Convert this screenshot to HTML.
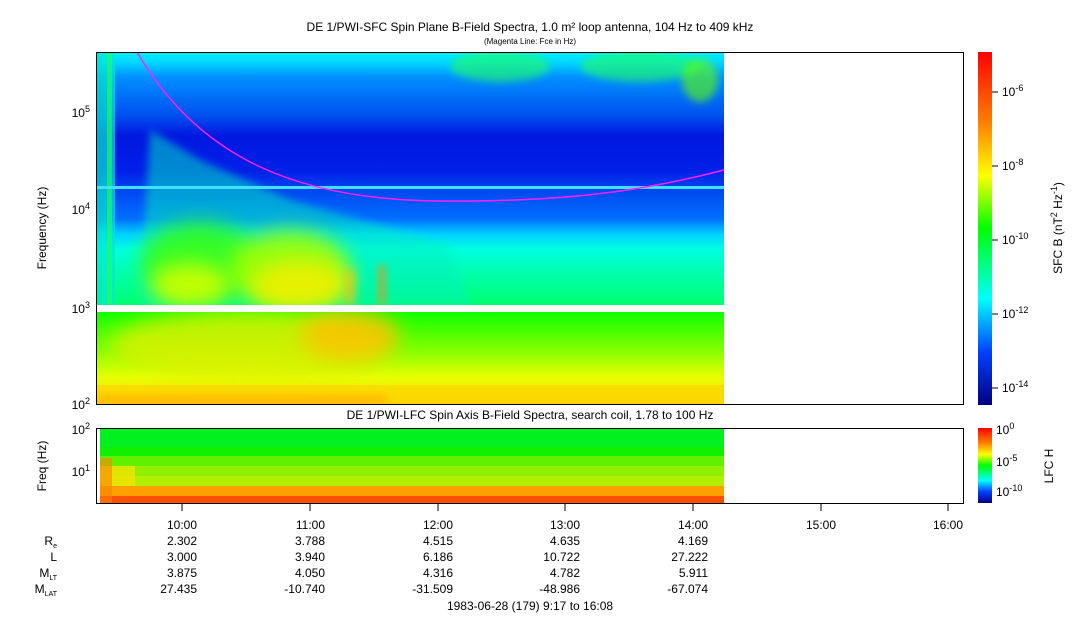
<!DOCTYPE html>
<html><head><meta charset="utf-8"><style>
body{margin:0;background:#fff;width:1083px;height:620px;overflow:hidden;font-family:"Liberation Sans",sans-serif}
svg text{font-family:"Liberation Sans",sans-serif;fill:#000}
</style></head><body>
<svg width="1083" height="620" xmlns="http://www.w3.org/2000/svg">
<defs>
<linearGradient id="top" x1="0" y1="52" x2="0" y2="305" gradientUnits="userSpaceOnUse">
<stop offset="0" stop-color="#00f0ff"/>
<stop offset="0.04" stop-color="#00d8ff"/>
<stop offset="0.1" stop-color="#0090ff"/>
<stop offset="0.25" stop-color="#0050f0"/>
<stop offset="0.33" stop-color="#0018e0"/>
<stop offset="0.47" stop-color="#0020e8"/>
<stop offset="0.55" stop-color="#0048f0"/>
<stop offset="0.66" stop-color="#0070ff"/>
<stop offset="0.72" stop-color="#00d0ff"/>
<stop offset="0.78" stop-color="#00ffe0"/>
<stop offset="0.9" stop-color="#00ffa0"/>
<stop offset="1" stop-color="#00ff70"/>
</linearGradient>
<linearGradient id="low" x1="0" y1="312" x2="0" y2="405" gradientUnits="userSpaceOnUse">
<stop offset="0" stop-color="#10ff00"/>
<stop offset="0.4" stop-color="#80ff00"/>
<stop offset="0.7" stop-color="#e8ff00"/>
<stop offset="1" stop-color="#ffd800"/>
</linearGradient>
<linearGradient id="cb1" x1="0" y1="52" x2="0" y2="405" gradientUnits="userSpaceOnUse">
<stop offset="0" stop-color="#ff0000"/><stop offset="0.2" stop-color="#ff8000"/>
<stop offset="0.35" stop-color="#ffff00"/><stop offset="0.5" stop-color="#00ff00"/>
<stop offset="0.7" stop-color="#00ffff"/><stop offset="0.85" stop-color="#0040ff"/>
<stop offset="1" stop-color="#000080"/></linearGradient>
<linearGradient id="cb2" x1="0" y1="428" x2="0" y2="503" gradientUnits="userSpaceOnUse">
<stop offset="0" stop-color="#ff0000"/><stop offset="0.2" stop-color="#ff8000"/>
<stop offset="0.35" stop-color="#ffff00"/><stop offset="0.5" stop-color="#00ff00"/>
<stop offset="0.7" stop-color="#00ffff"/><stop offset="0.85" stop-color="#0040ff"/>
<stop offset="1" stop-color="#000080"/></linearGradient>
<filter id="bl" x="-50%" y="-50%" width="200%" height="200%"><feGaussianBlur stdDeviation="10"/></filter>
<filter id="bl2" x="-50%" y="-50%" width="200%" height="200%"><feGaussianBlur stdDeviation="4"/></filter>
<clipPath id="c1"><rect x="97" y="52" width="627" height="253"/></clipPath>
<clipPath id="c2"><rect x="97" y="312" width="627" height="93"/></clipPath>
</defs>
<text x="530" y="31" font-size="12" text-anchor="middle">DE 1/PWI-SFC  Spin Plane B-Field Spectra, 1.0 m² loop antenna, 104 Hz to 409 kHz</text>
<text x="530" y="44" font-size="8" text-anchor="middle">(Magenta Line: Fce in Hz)</text>
<rect x="97" y="52" width="627" height="253" fill="url(#top)"/>
<g clip-path="url(#c1)">
<rect x="97" y="52" width="18" height="253" fill="#00e8d0" opacity="0.7"/>
<rect x="107" y="52" width="5" height="253" fill="#20ff60" opacity="0.6"/>
<path d="M150,130 L200,160 L290,200 L380,225 L450,245 L470,305 L140,305 Z" fill="#00f0c0" filter="url(#bl2)" opacity="0.5"/>
<ellipse cx="200" cy="262" rx="60" ry="40" fill="#40ff00" filter="url(#bl)" opacity="0.8"/>
<ellipse cx="290" cy="270" rx="60" ry="40" fill="#a0ff00" filter="url(#bl)" opacity="0.9"/>
<ellipse cx="300" cy="285" rx="50" ry="25" fill="#f0f000" filter="url(#bl)" opacity="0.9"/>
<ellipse cx="190" cy="285" rx="40" ry="22" fill="#d0ff00" filter="url(#bl)" opacity="0.9"/>
<rect x="378" y="265" width="8" height="40" fill="#ff9000" opacity="0.6" filter="url(#bl2)"/>
<rect x="345" y="270" width="10" height="35" fill="#ffc000" opacity="0.6" filter="url(#bl2)"/>
<ellipse cx="500" cy="66" rx="50" ry="16" fill="#20ff60" filter="url(#bl2)" opacity="0.6"/>
<ellipse cx="640" cy="66" rx="60" ry="16" fill="#20ff60" filter="url(#bl2)" opacity="0.6"/>
<ellipse cx="700" cy="80" rx="18" ry="22" fill="#60ff00" filter="url(#bl2)" opacity="0.6"/>
<rect x="97" y="186" width="627" height="3" fill="#40e0ff"/>
</g>
<rect x="97" y="312" width="627" height="93" fill="url(#low)"/>
<g clip-path="url(#c2)">
<ellipse cx="250" cy="345" rx="140" ry="35" fill="#e0f000" filter="url(#bl)" opacity="0.8"/>
<ellipse cx="350" cy="335" rx="50" ry="25" fill="#ffc000" filter="url(#bl)" opacity="0.8"/>
<rect x="97" y="385" width="627" height="20" fill="#ffd000" opacity="0.6"/>
<rect x="97" y="395" width="290" height="10" fill="#ffa000" opacity="0.5" filter="url(#bl2)"/>
</g>
<path d="M137,52 C200,160 300,200 440,201 C560,202 640,192 724,170" fill="none" stroke="#ff20ff" stroke-width="1.5"/>
<rect x="96.5" y="52.5" width="867" height="352" fill="none" stroke="#000"/>
<g font-size="12" text-anchor="end">
<text x="90" y="409">10<tspan dy="-5" font-size="9">2</tspan></text>
<text x="90" y="313">10<tspan dy="-5" font-size="9">3</tspan></text>
<text x="90" y="214">10<tspan dy="-5" font-size="9">4</tspan></text>
<text x="90" y="117">10<tspan dy="-5" font-size="9">5</tspan></text>
</g>
<text transform="translate(46,228) rotate(-90)" font-size="12" text-anchor="middle">Frequency (Hz)</text>
<rect x="978" y="52" width="14" height="353" fill="url(#cb1)"/>
<g stroke="#000"><line x1="992" y1="92" x2="998" y2="92"/><line x1="992" y1="166" x2="998" y2="166"/><line x1="992" y1="240" x2="998" y2="240"/><line x1="992" y1="314" x2="998" y2="314"/><line x1="992" y1="388" x2="998" y2="388"/></g>
<g font-size="12">
<text x="1002" y="96">10<tspan dy="-5" font-size="9">-6</tspan></text>
<text x="1002" y="170">10<tspan dy="-5" font-size="9">-8</tspan></text>
<text x="1002" y="244">10<tspan dy="-5" font-size="9">-10</tspan></text>
<text x="1002" y="318">10<tspan dy="-5" font-size="9">-12</tspan></text>
<text x="1002" y="392">10<tspan dy="-5" font-size="9">-14</tspan></text>
</g>
<text transform="translate(1062,228) rotate(-90)" font-size="12" text-anchor="middle">SFC B (nT<tspan dy="-5" font-size="9">2</tspan><tspan dy="5"> Hz</tspan><tspan dy="-5" font-size="9">-1</tspan><tspan dy="5">)</tspan></text>
<text x="530" y="419" font-size="12" text-anchor="middle">DE 1/PWI-LFC  Spin Axis B-Field Spectra, search coil, 1.78 to 100 Hz</text>
<rect x="100" y="428" width="624" height="19" fill="#00f020"/>
<rect x="100" y="447" width="624" height="9" fill="#10f000"/>
<rect x="100" y="456" width="624" height="10" fill="#60f000"/>
<rect x="100" y="466" width="624" height="10" fill="#90f000"/>
<rect x="100" y="476" width="624" height="10" fill="#b0f000"/>
<rect x="100" y="486" width="624" height="10" fill="#ffa000"/>
<rect x="100" y="496" width="624" height="8" fill="#ff5000"/>
<rect x="100" y="466" width="35" height="20" fill="#ffe000" opacity="0.7"/>
<rect x="100" y="458" width="12" height="46" fill="#ff8000" opacity="0.6"/>
<rect x="96.5" y="428.5" width="867" height="75" fill="none" stroke="#000"/>
<g font-size="12" text-anchor="end">
<text x="90" y="434">10<tspan dy="-5" font-size="9">2</tspan></text>
<text x="90" y="476">10<tspan dy="-5" font-size="9">1</tspan></text>
</g>
<text transform="translate(46,466) rotate(-90)" font-size="12" text-anchor="middle">Freq (Hz)</text>
<rect x="978" y="428" width="14" height="75" fill="url(#cb2)"/>
<g font-size="12">
<text x="996" y="434">10<tspan dy="-5" font-size="9">0</tspan></text>
<text x="996" y="466">10<tspan dy="-5" font-size="9">-5</tspan></text>
<text x="996" y="496">10<tspan dy="-5" font-size="9">-10</tspan></text>
</g>
<text transform="translate(1053,466) rotate(-90)" font-size="12" text-anchor="middle">LFC H</text>
<g stroke="#000">
<line x1="182" y1="504" x2="182" y2="511"/><line x1="310" y1="504" x2="310" y2="511"/><line x1="438" y1="504" x2="438" y2="511"/><line x1="565" y1="504" x2="565" y2="511"/><line x1="693" y1="504" x2="693" y2="511"/><line x1="821" y1="504" x2="821" y2="511"/><line x1="948" y1="504" x2="948" y2="511"/>
</g>
<g font-size="12" text-anchor="end">
<text x="197" y="529">10:00</text><text x="325" y="529">11:00</text><text x="453" y="529">12:00</text><text x="580" y="529">13:00</text><text x="708" y="529">14:00</text><text x="836" y="529">15:00</text><text x="963" y="529">16:00</text>
<text x="197" y="545">2.302</text><text x="325" y="545">3.788</text><text x="453" y="545">4.515</text><text x="580" y="545">4.635</text><text x="708" y="545">4.169</text>
<text x="197" y="561">3.000</text><text x="325" y="561">3.940</text><text x="453" y="561">6.186</text><text x="580" y="561">10.722</text><text x="708" y="561">27.222</text>
<text x="197" y="577">3.875</text><text x="325" y="577">4.050</text><text x="453" y="577">4.316</text><text x="580" y="577">4.782</text><text x="708" y="577">5.911</text>
<text x="197" y="593">27.435</text><text x="325" y="593">-10.740</text><text x="453" y="593">-31.509</text><text x="580" y="593">-48.986</text><text x="708" y="593">-67.074</text>
<text x="57" y="545">R<tspan font-size="7" dy="3">e</tspan></text>
<text x="57" y="561">L</text>
<text x="57" y="577">M<tspan font-size="7" dy="3">LT</tspan></text>
<text x="57" y="593">M<tspan font-size="7" dy="3">LAT</tspan></text>
</g>
<text x="530" y="610" font-size="12" text-anchor="middle">1983-06-28 (179) 9:17 to 16:08</text>
</svg>
</body></html>
